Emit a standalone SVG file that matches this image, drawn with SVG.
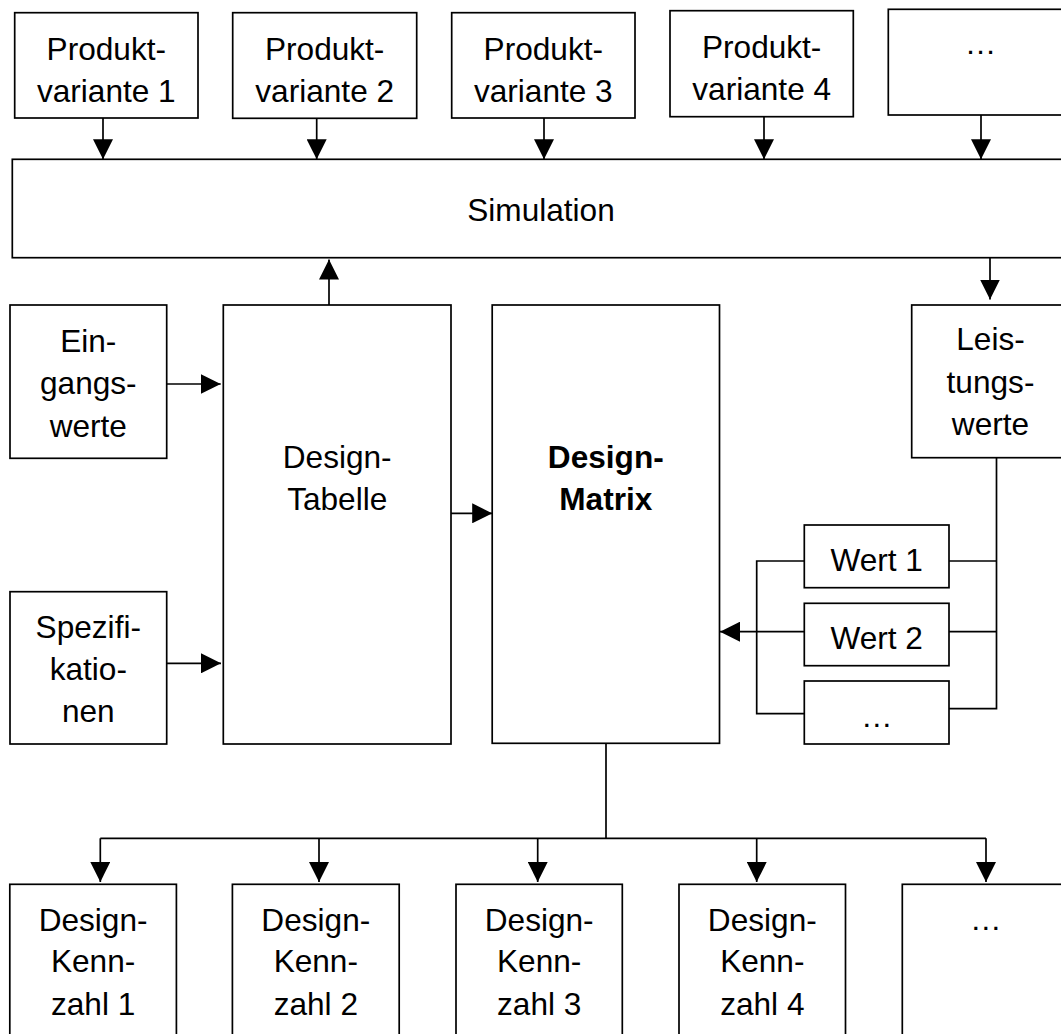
<svg xmlns="http://www.w3.org/2000/svg" width="1061" height="1034" viewBox="0 0 1061 1034">
  <style>
    .box { fill: #fff; stroke: #000; stroke-width: 1.7; }
    .lbl { font-family: "Liberation Sans", Arial, sans-serif; font-size: 31.6px; fill: #000; text-anchor: middle; }
    .bold { font-weight: bold; }
    .wire { fill: none; stroke: #000; stroke-width: 1.7; }
  </style>
  <defs>
    <marker id="head" markerUnits="userSpaceOnUse" markerWidth="20" markerHeight="20" refX="20" refY="10" orient="auto">
      <path d="M0,0 L20,10 L0,20 Z" fill="#000"/>
    </marker>
  </defs>
  <rect width="1061" height="1034" fill="#fff"/>

  <!-- product variants -->
  <g id="pv1"><rect class="box" x="14.7" y="12.7" width="183.3" height="105.3"/>
    <text class="lbl" x="106.3" y="60">Produkt-</text><text class="lbl" x="106.3" y="101.7">variante 1</text></g>
  <g id="pv2"><rect class="box" x="232.7" y="12.7" width="184" height="105.6"/>
    <text class="lbl" x="324.7" y="60">Produkt-</text><text class="lbl" x="324.7" y="101.7">variante 2</text></g>
  <g id="pv3"><rect class="box" x="451.7" y="12.7" width="183.3" height="105.3"/>
    <text class="lbl" x="543.3" y="60">Produkt-</text><text class="lbl" x="543.3" y="101.7">variante 3</text></g>
  <g id="pv4"><rect class="box" x="670" y="10.7" width="183.3" height="106"/>
    <text class="lbl" x="761.7" y="57.5">Produkt-</text><text class="lbl" x="761.7" y="100">variante 4</text></g>
  <g id="pv-more"><rect class="box" x="888.3" y="9.3" width="184" height="105.7"/>
    <text class="lbl" x="980.5" y="54">…</text></g>

  <!-- simulation -->
  <g id="simulation"><rect class="box" x="12.3" y="159.3" width="1052" height="98.4"/>
    <text class="lbl" x="541" y="221">Simulation</text></g>

  <!-- inputs -->
  <g id="eingangswerte"><rect class="box" x="10" y="305" width="156.7" height="153.3"/>
    <text class="lbl" x="88.3" y="351.7">Ein-</text><text class="lbl" x="88.3" y="394">gangs-</text><text class="lbl" x="88.3" y="436.7">werte</text></g>
  <g id="spezifikationen"><rect class="box" x="10" y="591.7" width="156.7" height="152.3"/>
    <text class="lbl" x="88.3" y="638.3">Spezifi-</text><text class="lbl" x="88.3" y="680">katio-</text><text class="lbl" x="88.3" y="721.7">nen</text></g>

  <g id="design-tabelle"><rect class="box" x="223.3" y="305" width="227.7" height="439"/>
    <text class="lbl" x="337.2" y="468">Design-</text><text class="lbl" x="337.2" y="510">Tabelle</text></g>
  <g id="design-matrix"><rect class="box" x="492.2" y="305" width="227.3" height="438.3"/>
    <text class="lbl bold" x="605.8" y="468.3">Design-</text><text class="lbl bold" x="605.8" y="510">Matrix</text></g>

  <g id="leistungswerte"><rect class="box" x="911.7" y="305" width="158" height="152.7"/>
    <text class="lbl" x="990.5" y="350">Leis-</text><text class="lbl" x="990.5" y="393.3">tungs-</text><text class="lbl" x="990.5" y="435">werte</text></g>

  <g id="wert1"><rect class="box" x="804.3" y="525" width="144.7" height="62.7"/>
    <text class="lbl" x="876.7" y="570.7">Wert 1</text></g>
  <g id="wert2"><rect class="box" x="804.3" y="603.3" width="144.7" height="62.4"/>
    <text class="lbl" x="876.7" y="649.3">Wert 2</text></g>
  <g id="wert-more"><rect class="box" x="804.3" y="681" width="144.7" height="63"/>
    <text class="lbl" x="876.7" y="727">…</text></g>

  <!-- key figures -->
  <g id="dk1"><rect class="box" x="9.8" y="884.3" width="166.6" height="170"/>
    <text class="lbl" x="93.1" y="930.7">Design-</text><text class="lbl" x="93.1" y="972.3">Kenn-</text><text class="lbl" x="93.1" y="1015">zahl 1</text></g>
  <g id="dk2"><rect class="box" x="232.4" y="884.3" width="166.8" height="170"/>
    <text class="lbl" x="315.8" y="930.7">Design-</text><text class="lbl" x="315.8" y="972.3">Kenn-</text><text class="lbl" x="315.8" y="1015">zahl 2</text></g>
  <g id="dk3"><rect class="box" x="456" y="884.3" width="166.3" height="170"/>
    <text class="lbl" x="539.2" y="930.7">Design-</text><text class="lbl" x="539.2" y="972.3">Kenn-</text><text class="lbl" x="539.2" y="1015">zahl 3</text></g>
  <g id="dk4"><rect class="box" x="679" y="884.3" width="166.5" height="170"/>
    <text class="lbl" x="762.3" y="930.7">Design-</text><text class="lbl" x="762.3" y="972.3">Kenn-</text><text class="lbl" x="762.3" y="1015">zahl 4</text></g>
  <g id="dk-more"><rect class="box" x="902.3" y="884.3" width="170" height="170"/>
    <text class="lbl" x="985.7" y="930">…</text></g>

  <!-- connectors -->
  <g id="connectors" class="wire">
    <line x1="103" y1="118" x2="103" y2="159.3" marker-end="url(#head)"/>
    <line x1="316.7" y1="118.3" x2="316.7" y2="159.3" marker-end="url(#head)"/>
    <line x1="544" y1="118" x2="544" y2="159.3" marker-end="url(#head)"/>
    <line x1="764" y1="116.7" x2="764" y2="159.3" marker-end="url(#head)"/>
    <line x1="981" y1="115" x2="981" y2="159.3" marker-end="url(#head)"/>

    <line x1="329" y1="305" x2="329" y2="259.5" marker-end="url(#head)"/>
    <line x1="990" y1="257.7" x2="990" y2="299.5" marker-end="url(#head)"/>

    <line x1="166.7" y1="384" x2="220.7" y2="384" marker-end="url(#head)"/>
    <line x1="166.7" y1="663.3" x2="221" y2="663.3" marker-end="url(#head)"/>
    <line x1="451" y1="513.3" x2="492.2" y2="513.3" marker-end="url(#head)"/>

    <!-- performance values fan-out -->
    <polyline points="996.5,457.7 996.5,708.7 949,708.7"/>
    <line x1="949" y1="561" x2="996.5" y2="561"/>
    <line x1="949" y1="631.7" x2="996.5" y2="631.7"/>
    <polyline points="804.3,561 756.7,561 756.7,713.7 804.3,713.7"/>
    <line x1="804.3" y1="631.7" x2="720" y2="631.7" marker-end="url(#head)"/>

    <!-- matrix to key figures -->
    <line x1="606" y1="743.3" x2="606" y2="838.3"/>
    <line x1="100.3" y1="838.3" x2="986" y2="838.3"/>
    <line x1="100.3" y1="838.3" x2="100.3" y2="882" marker-end="url(#head)"/>
    <line x1="319" y1="838.3" x2="319" y2="882" marker-end="url(#head)"/>
    <line x1="537.7" y1="838.3" x2="537.7" y2="882" marker-end="url(#head)"/>
    <line x1="756.7" y1="838.3" x2="756.7" y2="882" marker-end="url(#head)"/>
    <line x1="986" y1="838.3" x2="986" y2="882" marker-end="url(#head)"/>
  </g>
</svg>
